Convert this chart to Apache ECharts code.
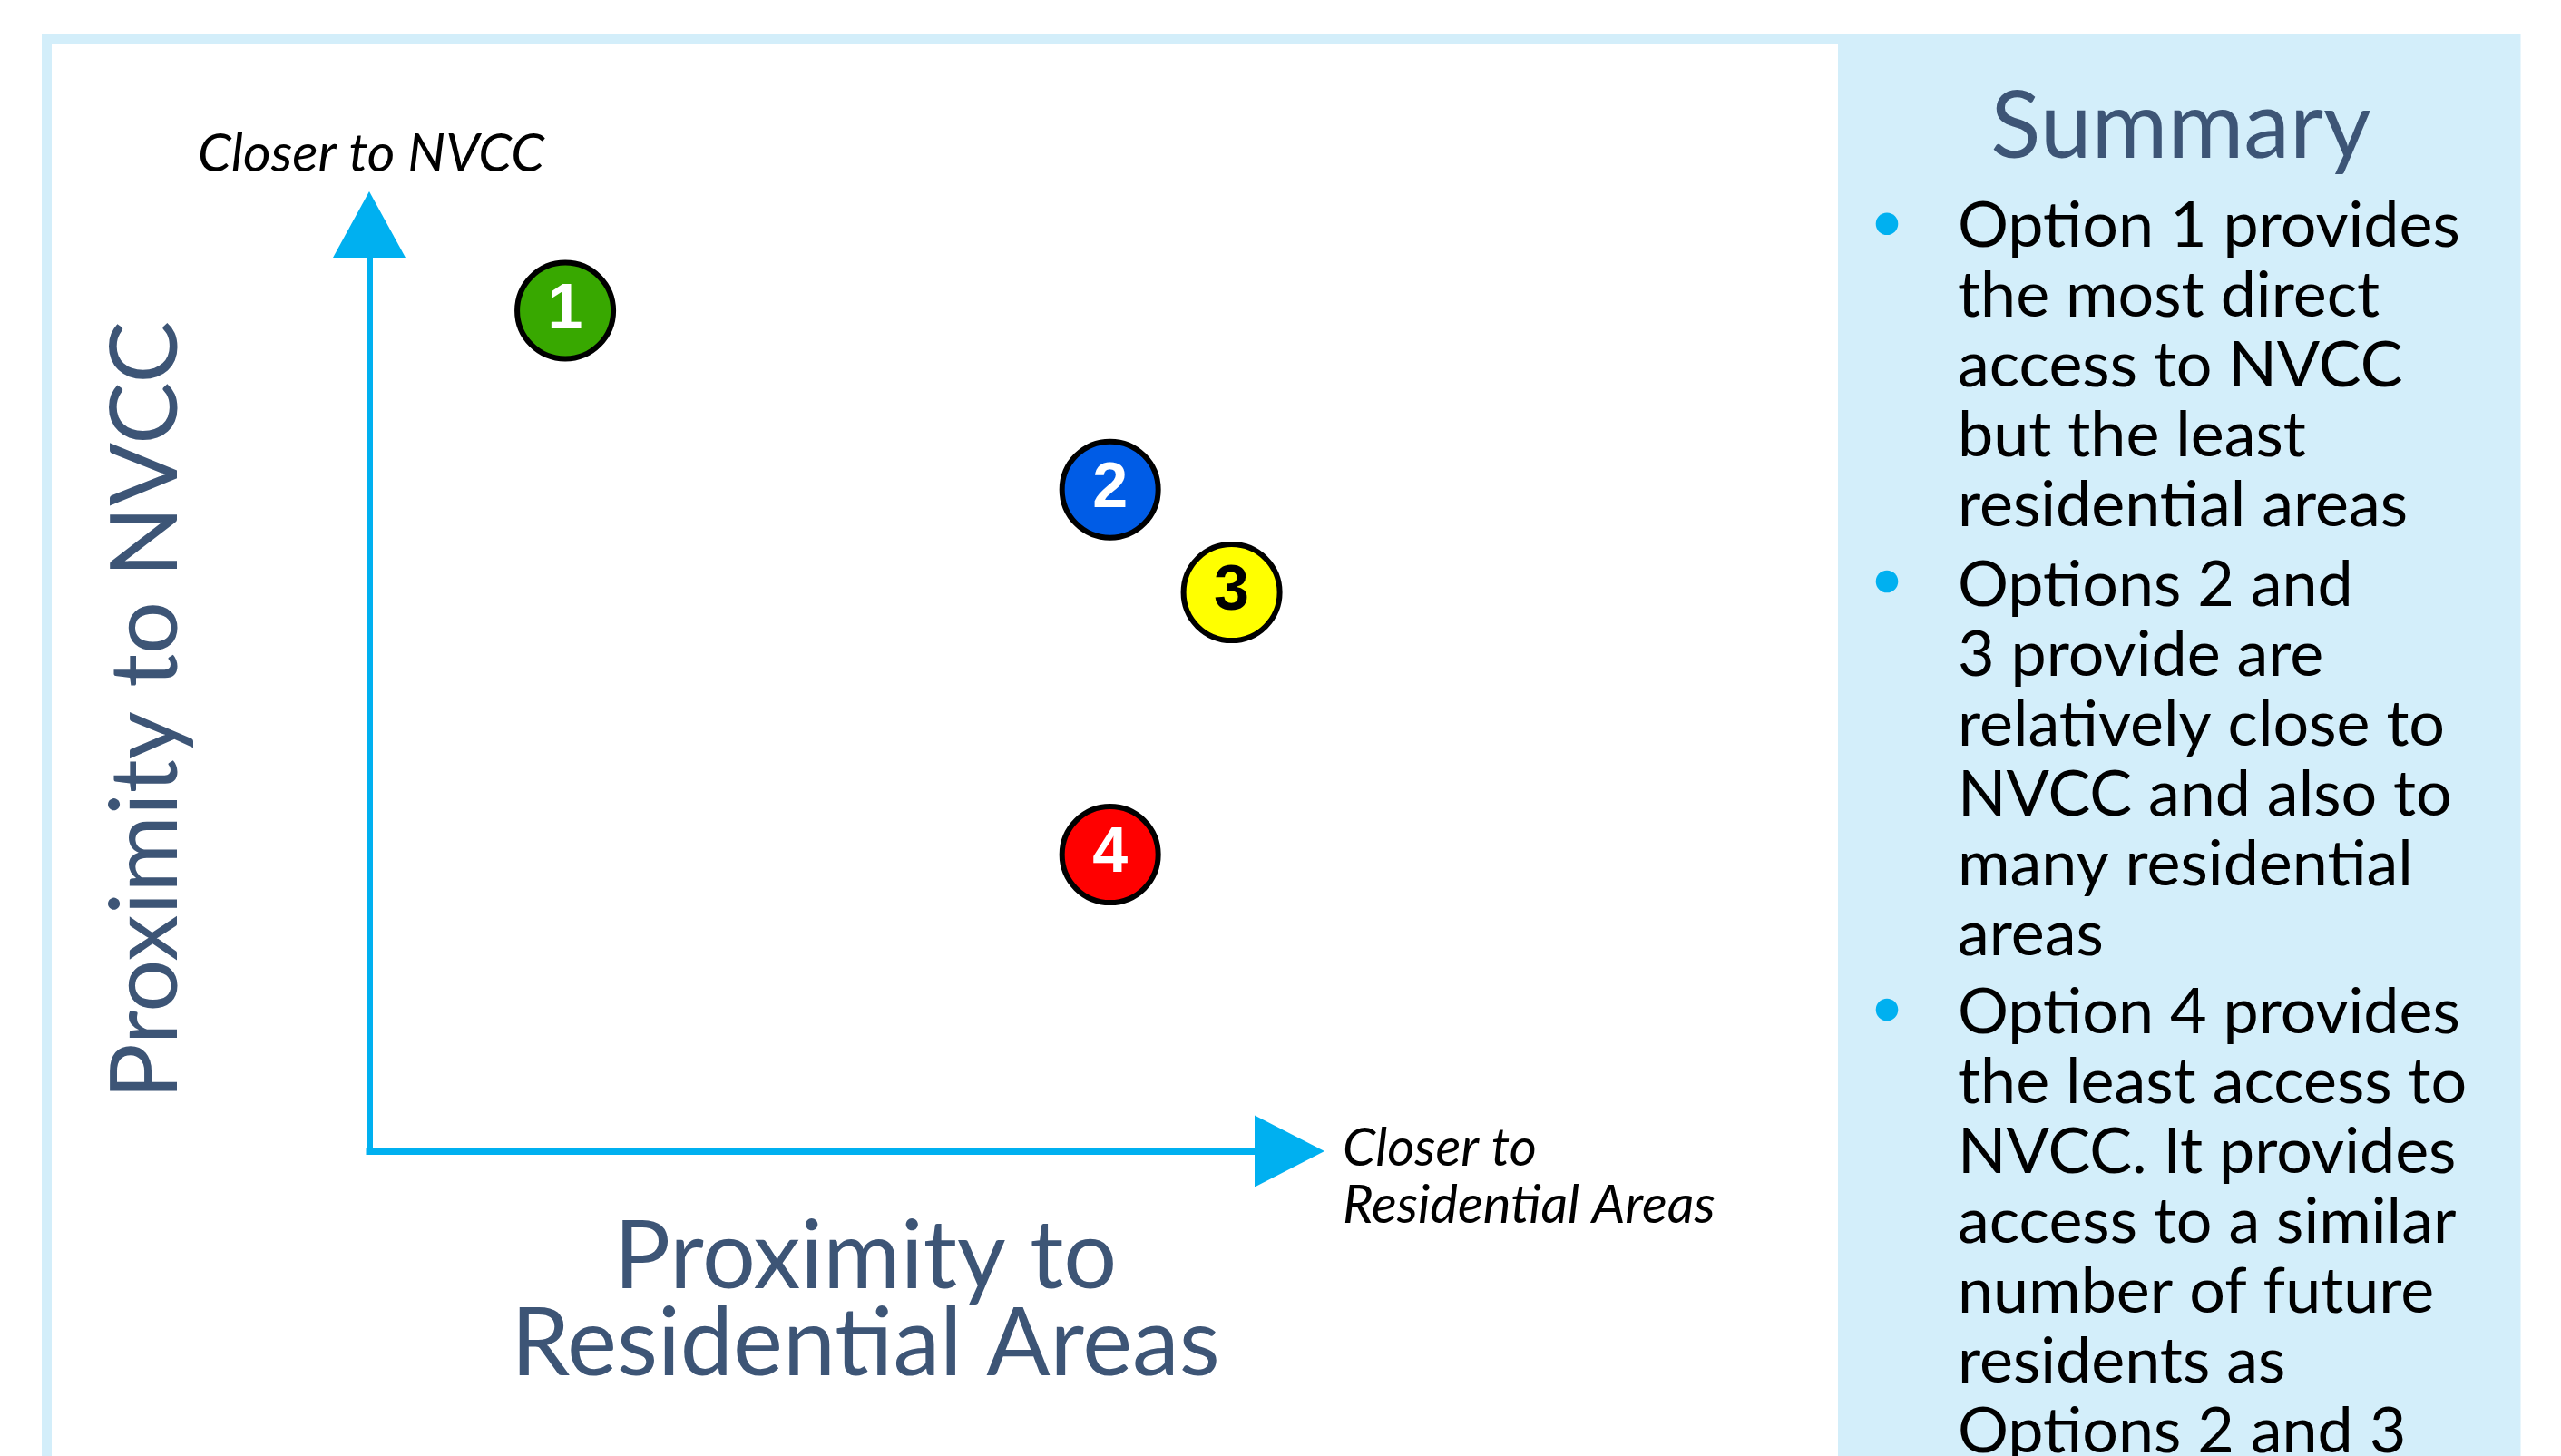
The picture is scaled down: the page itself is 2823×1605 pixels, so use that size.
<!DOCTYPE html>
<html>
<head>
<meta charset="utf-8">
<script src="https://cdn.jsdelivr.net/npm/echarts@6/dist/echarts.min.js"></script>
<style>
  html, body { margin: 0; padding: 0; background: #ffffff; }
  #chart { width: 2823px; height: 1605px; }
</style>
</head>
<body>
<div id="chart"></div>
<script>
// ---- Data ----
const optionNames = ['1', '2', '3', '4'];
const proximityResidential = [2.13, 8.05, 9.37, 8.05];   // x: closer to residential areas
const proximityNVCC = [9.07, 7.14, 6.03, 3.20];          // y: closer to NVCC
const xTitle = 'Proximity to\nResidential Areas';
const yTitle = 'Proximity to NVCC';
const xEndLabel = 'Closer to\nResidential Areas';
const yEndLabel = 'Closer to NVCC';
const summaryTitle = 'Summary';
const bullet1 = ['Option 1 provides', 'the most direct', 'access to NVCC', 'but the least', 'residential areas'];
const bullet2 = ['Options 2 and', '3 provide are', 'relatively close to', 'NVCC and also to', 'many residential', 'areas'];
const bullet3 = ['Option 4 provides', 'the least access to', 'NVCC. It provides', 'access to a similar', 'number of future', 'residents as', 'Options 2 and 3'];

// ---- Styles ----
const markerFill = ['#38A800', '#005CE6', '#FFFF00', '#FF0000'];
const markerText = ['#FFFFFF', '#FFFFFF', '#000000', '#FFFFFF'];
const AXIS_BLUE = '#00B0F0';
const PANEL = '#D3EEFA';
const SLATE = '#3D5576';
const FONT = 'Lato, "Open Sans", sans-serif';

const chart = echarts.init(document.getElementById('chart'), null, { renderer: 'canvas' });

const points = optionNames.map((n, i) => ({
  value: [proximityResidential[i], proximityNVCC[i]],
  name: n,
  itemStyle: { color: markerFill[i] },
  label: { color: markerText[i] }
}));

const LH = 77;
function bulletBlock(lines, top, dotY) {
  return [
    { type: 'circle', z: 5, shape: { cx: 2080, cy: dotY, r: 12.3 }, style: { fill: AXIS_BLUE } },
    { type: 'text', z: 5, x: 2158, y: top,
      style: { text: lines.join('\n'), font: '70px ' + FONT, fill: '#000000', lineHeight: LH, align: 'left', verticalAlign: 'top' } }
  ];
}

const option = {
  backgroundColor: '#ffffff',
  animation: false,
  grid: { left: 407, top: 247.5, width: 1014.5, height: 1021.5, containLabel: false },
  xAxis: {
    type: 'value', min: 0, max: 10,
    axisLine: { show: true, symbol: ['none', 'triangle'], symbolSize: [79, 77],
      lineStyle: { color: AXIS_BLUE, width: 7, cap: 'square' } },
    axisTick: { show: false }, axisLabel: { show: false }, splitLine: { show: false }
  },
  yAxis: {
    type: 'value', min: 0, max: 10,
    axisLine: { show: true, symbol: ['none', 'triangle'], symbolSize: [80, 73],
      lineStyle: { color: AXIS_BLUE, width: 7, cap: 'square' } },
    axisTick: { show: false }, axisLabel: { show: false }, splitLine: { show: false }
  },
  series: [{
    type: 'scatter',
    data: points,
    symbol: 'circle',
    symbolSize: 106,
    z: 10,
    itemStyle: { borderColor: '#000000', borderWidth: 6, opacity: 1 },
    label: {
      show: true, position: 'inside',
      formatter: p => p.name,
      fontFamily: '"Liberation Sans", Arial, sans-serif', fontWeight: 'bold', fontSize: 70
    },
    emphasis: { disabled: true }
  }],
  graphic: [
    { type: 'rect', z: -10, shape: { x: 51.5, y: 43.5, width: 2000, height: 1700 },
      style: { fill: 'none', stroke: PANEL, lineWidth: 11 } },
    { type: 'rect', z: -5, shape: { x: 2026, y: 38, width: 752.5, height: 1600 },
      style: { fill: PANEL } },
    { type: 'text', z: 5, x: 2404, y: 141,
      style: { text: summaryTitle, font: '102px ' + FONT, fill: SLATE, align: 'center', verticalAlign: 'middle' } },
    ...bulletBlock(bullet1, 211.4, 246.7),
    ...bulletBlock(bullet2, 606.7, 641),
    ...bulletBlock(bullet3, 1078.4, 1113),
    { type: 'text', z: 5, x: 218, y: 170,
      style: { text: yEndLabel, font: 'italic 59px ' + FONT, fill: '#000000', align: 'left', verticalAlign: 'middle' } },
    { type: 'text', z: 5, x: 1480, y: 1235,
      style: { text: xEndLabel, font: 'italic 58px ' + FONT, fill: '#000000', lineHeight: 63, align: 'left', verticalAlign: 'top' } },
    { type: 'text', z: 5, x: 954, y: 1338,
      style: { text: xTitle, font: '104px ' + FONT, fill: SLATE, lineHeight: 96, align: 'center', verticalAlign: 'top' } },
    { type: 'text', z: 5, x: 162, y: 783, rotation: Math.PI / 2,
      style: { text: yTitle, font: '103px ' + FONT, fill: SLATE, align: 'center', verticalAlign: 'middle' } }
  ]
};

chart.setOption(option);
</script>
</body>
</html>
